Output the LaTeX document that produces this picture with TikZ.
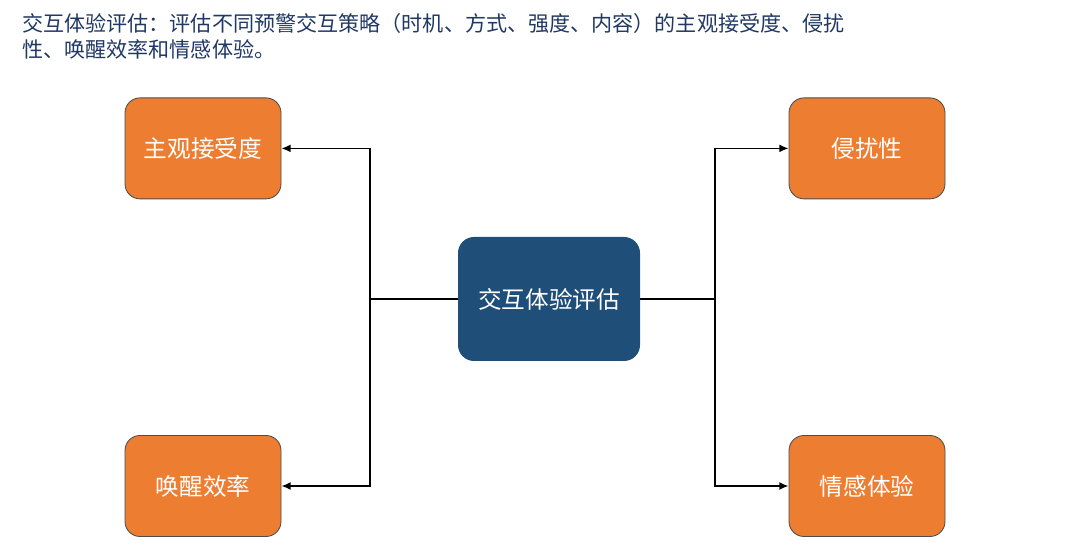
\documentclass[tikz,border=0pt]{standalone}
\usepackage{fontspec}
\setmainfont{Noto Sans CJK SC}
\usetikzlibrary{arrows.meta}
\definecolor{boxorange}{RGB}{237,125,49}
\definecolor{hubblue}{RGB}{31,78,121}
\definecolor{titleblue}{RGB}{32,56,100}
\tikzset{
  leafbox/.style={draw=black!70, line width=0.6pt, fill=boxorange, rounded corners=0.375cm,
    minimum width=3.9cm, minimum height=2.525cm, text=white, font=\fontsize{16.8pt}{19pt}\selectfont},
  hubbox/.style={fill=hubblue, rounded corners=0.4cm, minimum width=4.55cm, minimum height=3.1cm,
    text=white, font=\fontsize{16.8pt}{19pt}\selectfont},
  link/.style={line width=1.2pt, black},
  arr/.style={link, -{Latex[length=2.3mm,width=2mm]}}
}
\begin{document}
\begin{tikzpicture}
        \useasboundingbox (0,0) rectangle (26.75,14);

        \node[anchor=north west, align=left, text=titleblue, font=\fontsize{15pt}{19pt}\selectfont,
          inner sep=0pt] (title) at (0.55,13.68)
          {交互体验评估：评估不同预警交互策略（时机、方式、强度、内容）的主观接受度、侵扰\\性、唤醒效率和情感体验。};

        \node[hubbox] (hub) at (13.725,6.525) {交互体验评估};

        \node[leafbox] (accept) at (5.075,10.29) {主观接受度};
        \node[leafbox] (arousal) at (5.075,1.85) {唤醒效率};
        \node[leafbox] (intrude) at (21.675,10.29) {侵扰性};
        \node[leafbox] (emotion) at (21.675,1.85) {情感体验};

        \coordinate (lj) at (9.25,6.525);
        \coordinate (rj) at (17.875,6.525);

        \draw[link] (hub.west) -- (lj);
        \draw[link] (hub.east) -- (rj);
        \foreach \t in {accept,arousal}
        {\draw[arr] (lj) |- (\t.east);}
        \foreach \t in {intrude,emotion}
        {\draw[arr] (rj) |- (\t.west);}
    \end{tikzpicture}
\end{document}
